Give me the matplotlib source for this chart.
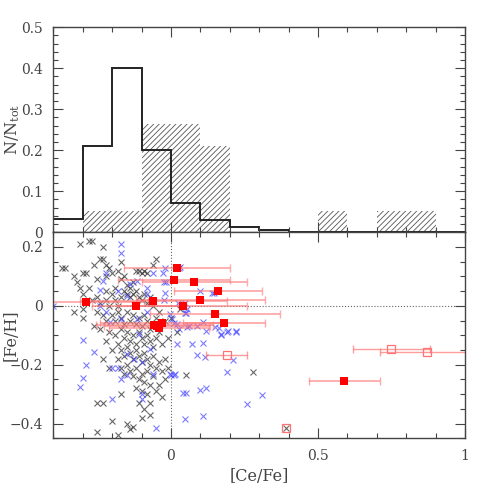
import matplotlib.pyplot as plt
from matplotlib.ticker import MultipleLocator

# histogram (top panel)
bin_edges = [-0.4, -0.3, -0.2, -0.1, 0.0, 0.1, 0.2, 0.3, 0.4, 0.5, 0.6, 0.7, 0.8, 0.9, 1.0]
field_frac = [0.033, 0.21, 0.40, 0.20, 0.072, 0.031, 0.012, 0.006, 0, 0, 0, 0, 0, 0]
star_frac = [0, 1/19, 1/19, 5/19, 5/19, 4/19, 0, 0, 0, 1/19, 0, 1/19, 1/19, 0]

# field stars (black crosses)
black_pts = [
    (-0.31, 0.21), (-0.28, 0.22), (-0.27, 0.22), (-0.23, 0.20),
    (-0.37, 0.13), (-0.36, 0.13), (-0.26, 0.14), (-0.24, 0.16), (-0.23, 0.16), (-0.22, 0.14),
    (-0.21, 0.13), (-0.17, 0.15), (-0.05, 0.16), (-0.06, 0.14),
    (-0.30, 0.11), (-0.29, 0.11), (-0.33, 0.10), (-0.32, 0.08), (-0.31, 0.06), (-0.30, 0.04),
    (-0.28, 0.06), (-0.25, 0.09), (-0.22, 0.10), (-0.20, 0.11), (-0.18, 0.12), (-0.17, 0.09),
    (-0.16, 0.10), (-0.12, 0.12), (-0.11, 0.12), (-0.10, 0.11), (-0.09, 0.12), (-0.08, 0.11),
    (-0.15, 0.07), (-0.14, 0.06), (-0.13, 0.08), (-0.19, 0.06), (-0.20, 0.04), (-0.22, 0.05),
    (-0.25, 0.03), (-0.27, 0.02), (-0.24, 0.01), (-0.22, 0.02), (-0.21, 0.00), (-0.19, 0.02),
    (-0.18, 0.00), (-0.17, 0.03), (-0.16, 0.05), (-0.15, 0.04), (-0.14, 0.03), (-0.13, 0.04),
    (-0.12, 0.05), (-0.11, 0.03), (-0.10, 0.02), (-0.09, 0.04), (-0.08, 0.01), (-0.07, 0.03),
    (-0.06, 0.00), (-0.30, -0.01), (-0.33, -0.02), (-0.30, -0.04), (-0.25, -0.02), (-0.23, -0.03),
    (-0.22, -0.05), (-0.20, -0.03), (-0.19, -0.05), (-0.18, -0.02), (-0.17, -0.04), (-0.16, -0.06),
    (-0.15, -0.02), (-0.14, -0.05), (-0.13, -0.03), (-0.12, -0.06), (-0.11, -0.04), (-0.10, -0.07),
    (-0.09, -0.03), (-0.08, -0.05), (-0.07, -0.08), (-0.06, -0.06), (-0.05, -0.04), (-0.04, -0.09),
    (-0.26, -0.07), (-0.24, -0.08), (-0.21, -0.09), (-0.19, -0.10), (-0.17, -0.08), (-0.16, -0.11),
    (-0.15, -0.09), (-0.14, -0.12), (-0.13, -0.10), (-0.12, -0.13), (-0.11, -0.09), (-0.10, -0.11),
    (-0.09, -0.13), (-0.08, -0.10), (-0.07, -0.12), (-0.06, -0.14), (-0.05, -0.11), (-0.03, -0.13),
    (-0.18, -0.13), (-0.17, -0.15), (-0.16, -0.17), (-0.15, -0.14), (-0.14, -0.16), (-0.13, -0.18),
    (-0.12, -0.15), (-0.11, -0.17), (-0.10, -0.19), (-0.09, -0.16), (-0.08, -0.18), (-0.07, -0.20),
    (-0.06, -0.17), (-0.05, -0.21), (-0.04, -0.19), (-0.03, -0.22), (-0.02, -0.18), (-0.02, -0.25),
    (-0.01, -0.21), (-0.18, -0.18), (-0.17, -0.21), (-0.16, -0.23), (-0.15, -0.20), (-0.14, -0.22),
    (-0.13, -0.24), (-0.12, -0.21), (-0.11, -0.25), (-0.10, -0.23), (-0.09, -0.26), (-0.08, -0.22),
    (-0.07, -0.27), (-0.06, -0.24), (-0.05, -0.29), (-0.04, -0.27), (-0.03, -0.31), (-0.08, -0.30),
    (-0.10, -0.29), (-0.12, -0.28), (-0.11, -0.33), (-0.09, -0.35), (-0.07, -0.33), (-0.07, -0.37),
    (-0.10, -0.38), (-0.17, -0.30), (-0.25, -0.33), (-0.23, -0.33), (-0.15, -0.40), (-0.13, -0.41),
    (-0.14, -0.42), (-0.20, -0.39), (-0.25, -0.43), (-0.18, -0.44), (0.00, -0.04), (0.03, -0.01),
    (0.02, -0.09), (-0.01, -0.11), (0.28, -0.225), (-0.20, -0.15), (-0.22, -0.12), (-0.23, -0.18),
    (-0.21, -0.21), (0.39, -0.415), (0.05, -0.236), (-0.02, -0.05), (-0.04, -0.02),
]
black_x = [p[0] for p in black_pts]
black_y = [p[1] for p in black_pts]

# field stars (blue crosses)
blue_pts = [
    (-0.17, 0.21), (-0.17, 0.18), (-0.02, 0.13), (0.026, 0.13), (-0.22, 0.11), (-0.23, 0.084),
    (-0.116, 0.084), (-0.023, 0.082), (-0.016, 0.082), (-0.14, 0.073), (-0.08, 0.062), (-0.02, 0.043),
    (0.10, 0.052), (0.145, 0.042), (-0.18, 0.05), (-0.24, 0.053), (-0.15, 0.034), (-0.08, 0.039),
    (-0.025, 0.02), (0.023, 0.009), (0.052, -0.025), (-0.002, -0.028), (0.003, -0.045), (0.02, -0.062),
    (0.054, -0.073), (0.088, -0.067), (0.11, -0.056), (0.15, -0.073), (0.17, -0.10), (0.19, -0.088),
    (0.22, -0.088), (-0.30, -0.116), (-0.26, -0.157), (-0.29, -0.20), (-0.30, -0.245), (-0.31, -0.275),
    (-0.20, -0.315), (-0.20, -0.21), (-0.18, -0.21), (-0.15, -0.236), (-0.11, -0.096), (-0.10, -0.19),
    (-0.06, -0.233), (-0.002, -0.233), (0.015, -0.233), (0.02, -0.13), (0.07, -0.13), (0.11, -0.127),
    (0.088, -0.166), (0.117, -0.174), (0.04, -0.296), (0.05, -0.296), (0.10, -0.287), (0.12, -0.28),
    (0.049, -0.385), (0.11, -0.374), (-0.05, -0.416), (0.19, -0.225), (0.21, -0.185), (0.26, -0.334),
    (0.31, -0.303), (-0.10, -0.30), (-0.10, -0.315), (-0.17, -0.247), (-0.15, -0.163), (-0.127, -0.18),
    (-0.07, -0.146), (-0.08, -0.022), (-0.116, -0.045), (-0.17, -0.045), (-0.206, -0.056), (-0.24, 0.0),
    (-0.22, -0.022), (-0.061, 0.111), (-0.027, 0.111), (0.032, 0.132), (0.14, 0.042), (0.049, 0.01),
    (0.054, -0.012), (0.049, -0.026), (0.18, -0.054), (0.12, -0.085), (0.162, -0.076), (0.193, -0.085),
    (0.222, -0.085), (0.026, -0.08), (0.009, -0.057), (0.06, -0.068), (0.171, -0.095), (0.0, -0.236),
    (0.011, -0.236), (-0.4, 0.0),
]
blue_x = [p[0] for p in blue_pts]
blue_y = [p[1] for p in blue_pts]

# program stars: [Ce/Fe], [Fe/H], error in [Ce/Fe]
ce_fe = [0.02, 0.01, 0.08, 0.16, 0.10, -0.06, -0.29, -0.12, 0.04, 0.15, 0.18, -0.03, -0.056, -0.048, -0.039, 0.59]
fe_h = [0.13, 0.087, 0.082, 0.052, 0.020, 0.017, 0.012, 0.001, 0.001, -0.028, -0.057, -0.057, -0.064, -0.067, -0.075, -0.256]
ce_err = [0.18, 0.19, 0.18, 0.15, 0.22, 0.25, 0.20, 0.15, 0.22, 0.22, 0.14, 0.21, 0.20, 0.18, 0.17, 0.12]

open_ce = [0.19, 0.75, 0.87]
open_fe = [-0.166, -0.147, -0.156]
open_err = [0.07, 0.13, 0.16]
lone_ce = [0.39]
lone_fe = [-0.415]

plt.rcParams['font.family'] = 'DejaVu Serif'
plt.rcParams['hatch.linewidth'] = 0.6
plt.rcParams['mathtext.fontset'] = 'dejavuserif'

fig = plt.figure(figsize=(4.91, 4.91), dpi=100)
ax1 = fig.add_axes([0.1086, 0.527, 0.8384, 0.4174])
ax2 = fig.add_axes([0.1086, 0.1073, 0.8384, 0.4197])

spine_c = '#444444'
for ax in (ax1, ax2):
    ax.set_xlim(-0.4, 1.0)
    ax.xaxis.set_major_locator(MultipleLocator(0.5))
    ax.xaxis.set_minor_locator(MultipleLocator(0.1))
    ax.tick_params(which='both', direction='in', top=True, right=True, colors=spine_c,
                   labelcolor='#444444', labelsize=10)
    ax.tick_params(which='major', length=7, width=0.8, pad=7.5)
    ax.tick_params(which='minor', length=3.5, width=0.8)
    for s in ax.spines.values():
        s.set_color(spine_c)
        s.set_linewidth(1.0)

# top panel
centers = [(bin_edges[i] + bin_edges[i + 1]) / 2 for i in range(len(star_frac))]
ax1.bar(centers, star_frac, width=0.1, fill=False, hatch='//////', edgecolor='#555555', linewidth=0)
ax1.stairs(field_frac, bin_edges, color='#222222', linewidth=1.4, baseline=None)
ax1.set_ylim(0, 0.5)
ax1.yaxis.set_major_locator(MultipleLocator(0.1))
ax1.yaxis.set_minor_locator(MultipleLocator(0.02))
ax1.set_yticks([0, 0.1, 0.2, 0.3, 0.4, 0.5])
ax1.set_yticklabels(['0', '0.1', '0.2', '0.3', '0.4', '0.5'])
ax1.tick_params(labelbottom=False)
ax1.set_ylabel(r'N/N$_{\rm tot}$', fontsize=11.5, color='#444444')
ax1.yaxis.set_label_coords(-0.076, 0.5)

# bottom panel
ax2.axhline(0, color='#666666', linestyle=':', linewidth=0.8, zorder=0)
ax2.axvline(0, color='#666666', linestyle=':', linewidth=0.8, zorder=0)
ax2.plot(black_x, black_y, 'x', color='#333333', alpha=0.75, markersize=5, markeredgewidth=0.8)
ax2.plot(blue_x, blue_y, 'x', color='#4444ff', alpha=0.7, markersize=5, markeredgewidth=0.8)
ax2.errorbar(ce_fe, fe_h, xerr=ce_err, fmt='none', ecolor=(1, 0.45, 0.45), alpha=0.6,
             elinewidth=1.3, capsize=3, capthick=1.0)
ax2.errorbar(open_ce, open_fe, xerr=open_err, fmt='none', ecolor=(1, 0.45, 0.45), alpha=0.7,
             elinewidth=1.0, capsize=3, capthick=1.0)
ax2.plot(ce_fe, fe_h, 's', color='red', markersize=5.5, markeredgewidth=0)
ax2.plot(open_ce, open_fe, 's', markerfacecolor='none', markeredgecolor=(1, 0.45, 0.45),
         markersize=6, markeredgewidth=0.9)
ax2.plot(lone_ce, lone_fe, 's', markerfacecolor='none', markeredgecolor=(1, 0.45, 0.45),
         markersize=6, markeredgewidth=0.9)
ax2.set_ylim(-0.45, 0.25)
ax2.yaxis.set_major_locator(MultipleLocator(0.2))
ax2.yaxis.set_minor_locator(MultipleLocator(0.05))
ax2.set_yticks([-0.4, -0.2, 0, 0.2])
ax2.set_yticklabels(['\u22120.4', '\u22120.2', '0', '0.2'])
ax2.set_xticks([0, 0.5, 1])
ax2.set_xticklabels(['0', '0.5', '1'])
ax2.set_xlabel('[Ce/Fe]', fontsize=11.5, color='#444444', labelpad=4)
ax2.set_ylabel('[Fe/H]', fontsize=11.5, color='#444444')
ax2.yaxis.set_label_coords(-0.082, 0.5)

fig.savefig('out.png', dpi=100)
